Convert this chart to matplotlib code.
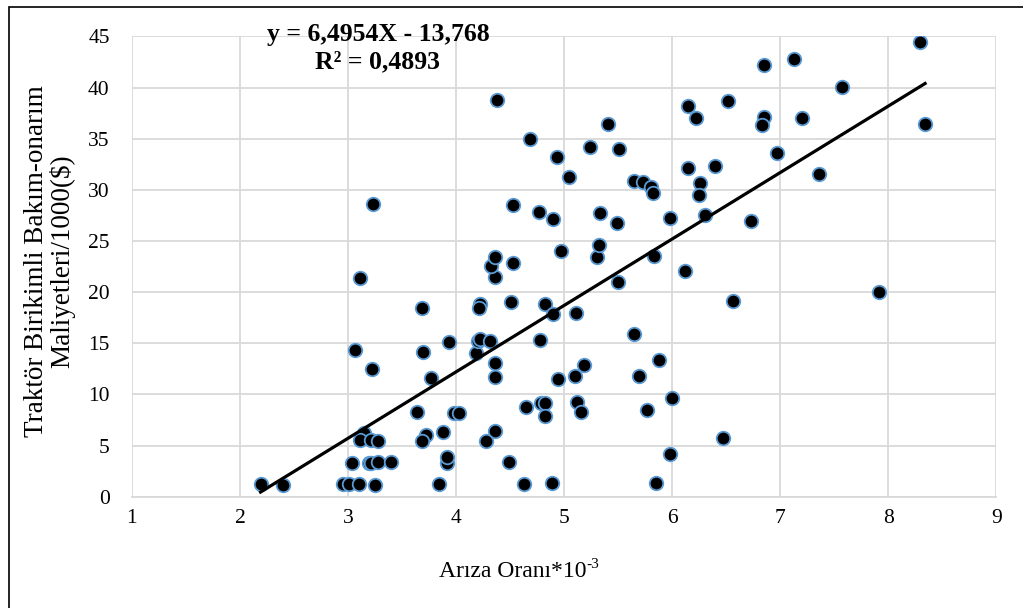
import matplotlib
matplotlib.use("Agg")
import matplotlib.pyplot as plt
from matplotlib.patches import Rectangle

plt.rcParams['font.family'] = ['Liberation Serif', 'DejaVu Serif']

# Arıza oranı (x) ve birikimli maliyet (y)
ariza = [2.19, 2.40, 2.95, 3.01, 3.10, 3.25, 3.84, 4.63, 4.89, 5.85,
         3.04, 3.19, 3.21, 3.28, 3.40, 3.92, 3.92, 4.49, 5.98,
         3.15, 3.11, 3.21, 3.28, 3.72, 3.68, 3.88, 4.36, 4.28, 6.47,
         3.64, 3.98, 4.03, 4.65, 4.79, 4.82, 4.82, 5.12, 5.16, 5.77, 6.00,
         3.22, 3.77, 3.06, 3.69, 3.93, 4.18, 4.20, 4.22, 4.31, 4.78,
         4.36, 4.36, 4.94, 5.10, 5.18, 5.69, 5.88, 5.65,
         3.68, 4.22, 4.21, 4.51, 4.82, 4.90, 5.11, 6.56, 7.91,
         3.11, 4.36, 4.32, 4.36, 4.53, 5.50, 6.12, 5.30, 5.32, 4.97, 5.83,
         3.23, 4.53, 4.77, 4.90, 5.33, 5.49, 5.98, 6.30, 6.73,
         5.04, 5.65, 5.73, 5.80, 5.82, 6.26, 6.25, 6.15, 6.40,
         4.93, 5.24, 5.51, 4.68, 5.41, 4.38, 6.15, 6.22, 6.52,
         6.85, 6.83, 7.20, 8.34, 6.97, 7.36, 7.57, 6.85, 7.13, 8.29]
maliyet = [1.21, 1.14, 1.21, 1.21, 1.27, 1.14, 1.21, 1.21, 1.37, 1.37,
           3.33, 3.33, 3.33, 3.43, 3.37, 3.33, 3.92, 3.43, 4.14,
           6.26, 5.55, 5.55, 5.47, 6.03, 5.45, 6.30, 6.39, 5.47, 5.77,
           8.25, 8.15, 8.15, 8.75, 9.13, 9.13, 7.89, 9.29, 8.29, 8.51, 9.65,
           12.46, 11.64, 14.38, 14.18, 15.14, 14.08, 15.21, 15.41, 15.21, 15.31,
           13.12, 11.68, 11.48, 11.78, 12.88, 11.78, 13.37, 15.90,
           18.49, 18.89, 18.49, 19.01, 18.86, 17.84, 17.99, 19.11, 19.98,
           21.43, 21.52, 22.56, 23.46, 22.83, 21.03, 22.07, 23.48, 24.62, 24.03, 23.55,
           28.62, 28.54, 27.88, 27.14, 27.73, 26.81, 27.30, 27.56, 26.98,
           31.25, 30.91, 30.81, 30.32, 29.68, 30.66, 29.54, 32.16, 32.35,
           33.20, 34.24, 33.98, 34.97, 36.46, 38.75, 38.22, 37.05, 38.72,
           37.12, 36.33, 37.05, 36.49, 33.56, 31.57, 40.06, 42.24, 42.82, 44.45]

egim = 6.4954
kesisim = -13.768

fig = plt.figure(figsize=(10.23, 6.08), dpi=100)
ax = fig.add_axes([0.129, 0.183, 0.845, 0.757])

ax.scatter(ariza, maliyet, s=95, c='black', edgecolors='#5B9BD5',
           linewidths=1.3, zorder=3)

x_min, x_max = min(ariza), max(ariza)
ax.plot([x_min, x_max], [egim * x_min + kesisim, egim * x_max + kesisim],
        color='black', lw=2.3, zorder=4)

ax.set_xlim(1, 9)
ax.set_ylim(0, 45)
ax.set_xticks(range(1, 10))
ax.set_yticks(range(0, 46, 5))
ax.grid(True, color='#D9D9D9', lw=1.3)
ax.set_axisbelow(True)
for s in ['top', 'right', 'left']:
    ax.spines[s].set_visible(False)
ax.spines['bottom'].set_color('#D9D9D9')
ax.spines['bottom'].set_linewidth(1.3)
ax.tick_params(axis='both', length=0, labelsize=15.5)
ax.tick_params(axis='x', pad=9)
ax.tick_params(axis='y', pad=16)

ax.set_xlabel('Arıza Oranı*10', fontsize=17, va='center')
ax.xaxis.set_label_coords(0.440, -0.163)
# ust simge: -3
ax.annotate('-3', xy=(1, 1), xycoords=ax.xaxis.label, xytext=(0.5, 2),
            textcoords='offset points', fontsize=11, ha='left', va='top')
ax.set_ylabel('Traktör Birikimli Bakım-onarım\nMaliyetleri/1000($)',
              fontsize=19.5, linespacing=1.02, va='center')
ax.yaxis.set_label_coords(-0.095, 0.511)

fig.text(0.3695, 0.944, 'y = 6,4954X - 13,768', fontsize=18.5, fontweight='bold',
         ha='center', va='center')
fig.text(0.3695, 0.898, 'R² = 0,4893', fontsize=18.5, fontweight='bold',
         ha='center', va='center')

fig.patches.append(Rectangle((0.0088, -0.1), 1.2, 1.0885, transform=fig.transFigure,
                             fill=False, edgecolor='black', lw=1.2))

fig.savefig('out.png', dpi=100)
